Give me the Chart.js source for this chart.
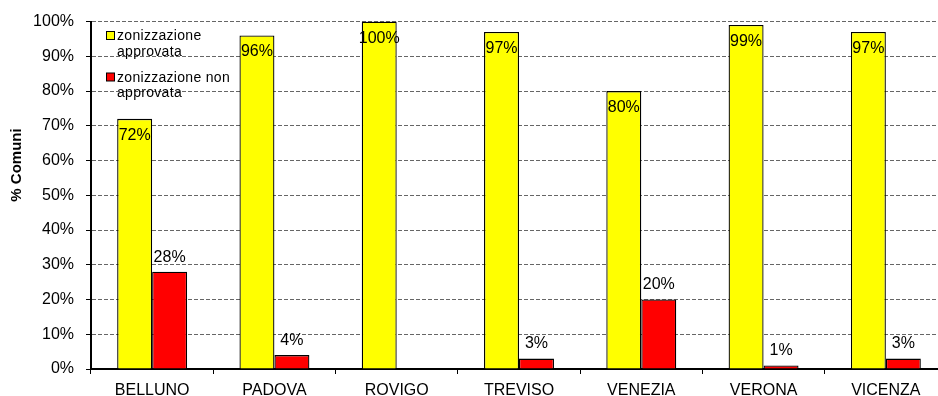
<!DOCTYPE html>
<html lang="it">
<head>
  <meta charset="UTF-8" />
  <title>Zonizzazione per provincia</title>
  <style>
    html, body {
      margin: 0;
      padding: 0;
      background: #fff;
      overflow: hidden;
    }
    .chart_box {
      width: 950px;
      height: 396px;
    }
  </style>
  <script src="https://cdn.jsdelivr.net/npm/chart.js"></script>
</head>
<body>
  <div class="chart_box">
    <canvas id="mychart" width="950" height="396"></canvas>
  </div>
  <script>
    const province = ['BELLUNO', 'PADOVA', 'ROVIGO', 'TREVISO', 'VENEZIA', 'VERONA', 'VICENZA'];
    const approvata = [72, 96, 100, 97, 80, 99, 97];
    const nonApprovata = [28, 4, 0, 3, 20, 1, 3];
    const yTicks = [0, 10, 20, 30, 40, 50, 60, 70, 80, 90, 100];
    const legendLines = [['zonizzazione', 'approvata'], ['zonizzazione non', 'approvata']];
    const yTitle = '% Comuni';

    const FONT = '"Liberation Sans", Arial, sans-serif';

    // percent labels: inside the top of the yellow bars, above the red ones
    const barLabels = {
      id: 'barLabels',
      afterDatasetsDraw(chart) {
        const ctx = chart.ctx;
        ctx.save();
        ctx.font = '16px ' + FONT;
        ctx.fillStyle = '#000';
        ctx.textAlign = 'center';
        ctx.textBaseline = 'middle';
        chart.data.datasets.forEach((ds, i) => {
          chart.getDatasetMeta(i).data.forEach((bar, j) => {
            const v = ds.data[j];
            if (!v) return;
            const y = i === 0 ? bar.y + 16.5 : bar.y - 14.5;
            ctx.fillText(v + '%', bar.x, y);
          });
        });
        ctx.restore();
      }
    };

    // two-line legend in the top left corner of the plot, plus the axis title
    const sideText = {
      id: 'sideText',
      afterDraw(chart) {
        const ctx = chart.ctx;
        const colors = chart.data.datasets.map(d => d.backgroundColor);
        ctx.save();
        ctx.font = '14px ' + FONT;
        ctx.letterSpacing = '0.3px';
        ctx.textBaseline = 'middle';
        ctx.textAlign = 'left';
        legendLines.forEach((lines, i) => {
          const top = 31.5 + i * 41.5;
          ctx.fillStyle = colors[i];
          ctx.fillRect(106.5, top, 8, 8);
          ctx.strokeStyle = '#000';
          ctx.lineWidth = 1;
          ctx.strokeRect(106.5, top, 8, 8);
          ctx.fillStyle = '#000';
          lines.forEach((t, k) => ctx.fillText(t, 117, top + 5 + k * 15.5));
        });
        ctx.letterSpacing = '0px';
        ctx.translate(17, 165);
        ctx.rotate(-Math.PI / 2);
        ctx.font = 'bold 15px ' + FONT;
        ctx.textAlign = 'center';
        ctx.fillText(yTitle, 0, 0);
        ctx.restore();
      }
    };

    const chart = new Chart('mychart', {
      type: 'bar',
      data: {
        labels: province,
        datasets: [{
          label: legendLines[0].join(' '),
          data: approvata,
          backgroundColor: '#ffff00',
          borderColor: '#000',
          borderWidth: 1.3
        }, {
          label: legendLines[1].join(' '),
          data: nonApprovata,
          backgroundColor: '#ff0000',
          borderColor: '#000',
          borderWidth: 1.3
        }]
      },
      options: {
        responsive: false,
        animation: false,
        layout: { padding: { left: 0, top: 21, right: 3, bottom: 0 } },
        datasets: {
          bar: { categoryPercentage: 0.572, barPercentage: 1 }
        },
        plugins: {
          legend: { display: false },
          tooltip: { enabled: false }
        },
        scales: {
          x: {
            grid: {
              offset: true,
              drawOnChartArea: false,
              drawTicks: true,
              tickLength: 5,
              tickColor: '#000',
              tickWidth: 1
            },
            border: { color: '#000', width: 2 },
            ticks: {
              color: '#000',
              font: { family: FONT, size: 16 },
              padding: 7,
              maxRotation: 0
            },
            afterFit(scale) { scale.height = 27; }
          },
          y: {
            min: 0,
            max: 100,
            afterBuildTicks(scale) { scale.ticks = yTicks.map(v => ({ value: v })); },
            grid: {
              color: '#666',
              lineWidth: 1,
              drawTicks: true,
              tickLength: 5,
              tickColor: '#000',
              tickWidth: 1
            },
            border: { color: '#000', width: 2, dash: [4, 2] },
            ticks: {
              color: '#000',
              font: { family: FONT, size: 16 },
              padding: 12,
              callback: v => v + '%'
            },
            afterFit(scale) { scale.width = 91; }
          }
        }
      },
      plugins: [barLabels, sideText]
    });
  </script>
</body>
</html>
